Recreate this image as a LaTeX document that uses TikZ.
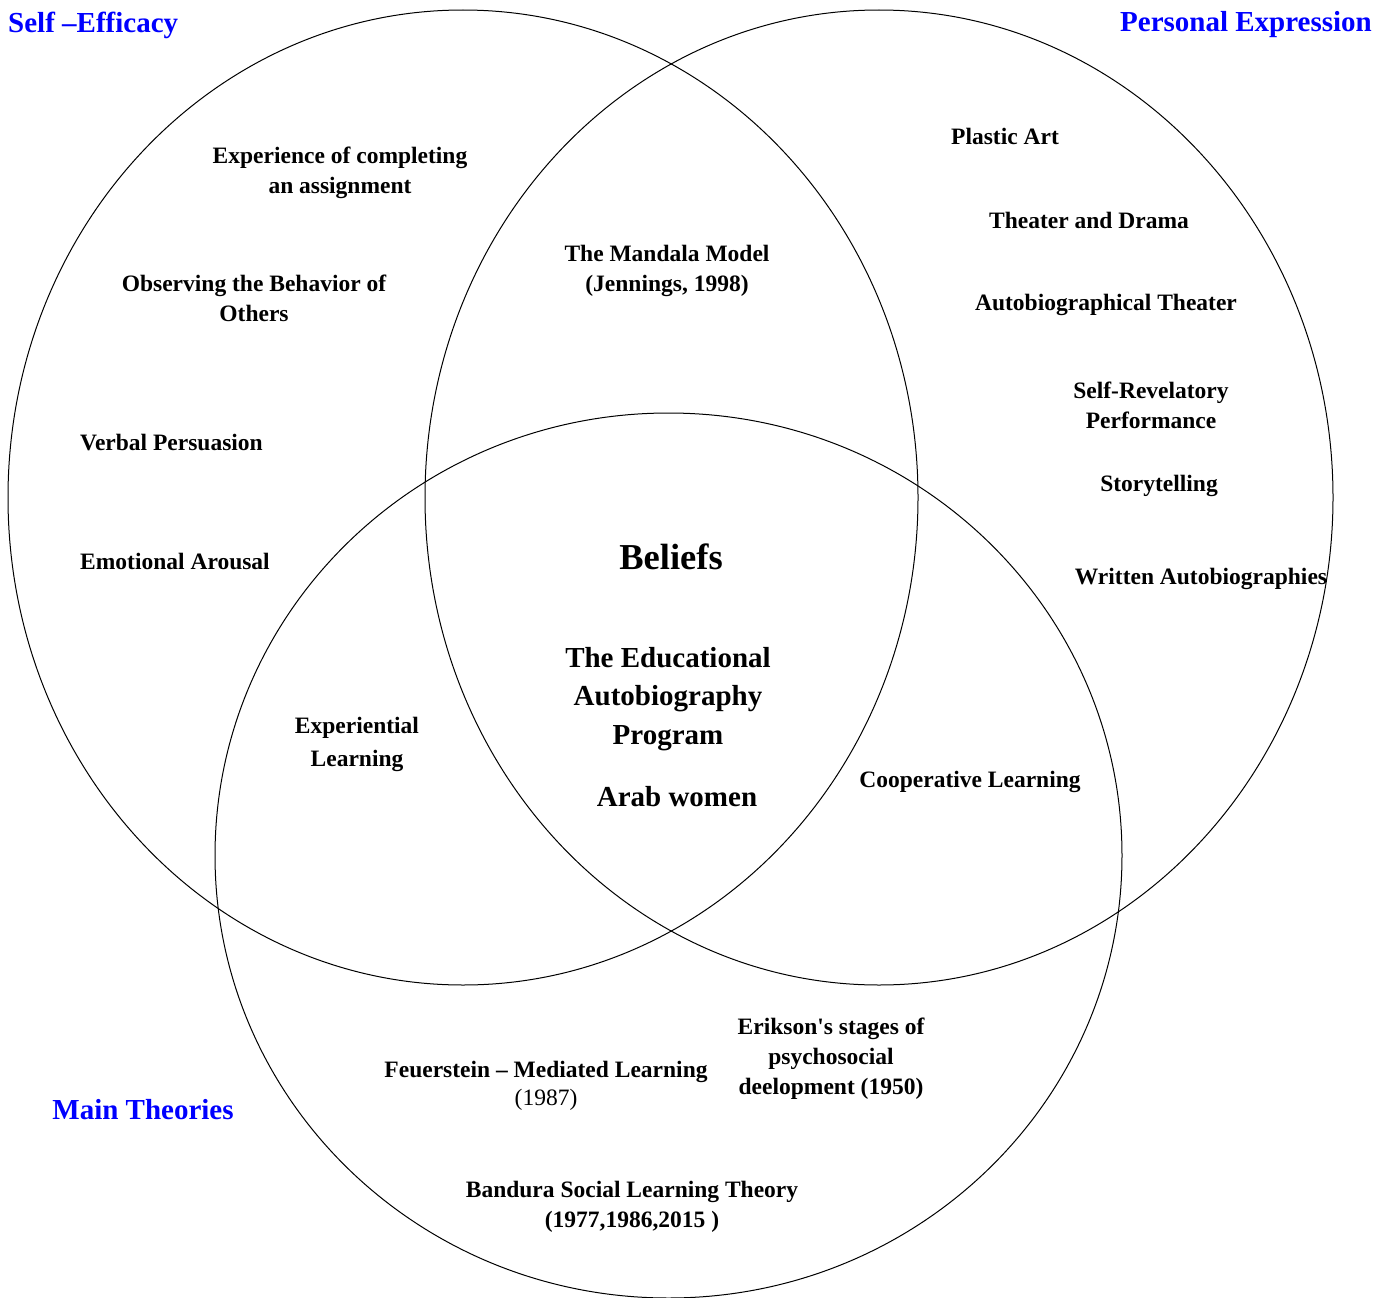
\documentclass[tikz,border=0pt]{standalone}
\usepackage{fontspec}
\setmainfont{Liberation Serif}
\usetikzlibrary{positioning}
\tikzstyle{ring}=[draw, line width=1pt]
\tikzstyle{item}=[font=\fontsize{23.5}{30}\selectfont\bfseries, align=center, inner sep=0pt]
\tikzstyle{core}=[font=\fontsize{29}{38.5}\selectfont\bfseries, align=center, inner sep=0pt]
\tikzstyle{setname}=[font=\fontsize{29}{34}\selectfont\bfseries, text=blue, inner sep=0pt]

\begin{document}
\begin{tikzpicture}[x=1pt, y=-1pt]
            \useasboundingbox (0,0) rectangle (1392,1298);

            % the three sets
            \draw[ring] (463,497.5) ellipse [x radius=455pt, y radius=487.5pt];
            \draw[ring] (879,497.5) ellipse [x radius=454pt, y radius=487.5pt];
            \draw[ring] (668.5,855.5) ellipse [x radius=453.5pt, y radius=442.5pt];

            % set names
            \node[setname, anchor=west] (efficacy) at (8,25) {Self –Efficacy};
            \node[setname, anchor=east] (expression) at (1372,25) {Personal Expression};
            \node[setname] (theories) at (143,1110) {Main Theories};

            % self efficacy
            \node[item] (assignment) at (340,173) {Experience of completing\\an assignment};
            \node[item] (observing) at (254,298) {Observing the Behavior of\\Others};
            \node[item, anchor=west] (verbal) at (80,443) {Verbal Persuasion};
            \node[item, anchor=west] (arousal) at (80,561) {Emotional Arousal};

            % personal expression
            \node[item] (plastic) at (1005,136) {Plastic Art};
            \node[item] (theater) at (1089,220) {Theater and Drama};
            \node[item] (autotheater) at (1106,305) {Autobiographical Theater};
            \node[item] (revelatory) at (1151,405) {Self-Revelatory\\Performance};
            \node[item] (story) at (1159,486) {Storytelling};
            \node[item] (written) at (1201,579) {Written Autobiographies};

            % overlaps
            \node[item] (mandala) at (667,271) {The Mandala Model\\(Jennings, 1998)};
            \node[item, font=\fontsize{23.5}{33}\selectfont\bfseries] (experiential) at (357,744) {Experiential\\Learning};
            \node[item] (cooperative) at (970,782) {Cooperative Learning};

            % centre
            \node[core, font=\fontsize{36.5}{40}\selectfont\bfseries] (beliefs) at (671,557) {Beliefs};
            \node[core] (program) at (668,699) {The Educational\\Autobiography\\Program};
            \node[core] (women) at (677,797) {Arab women};

            % main theories
            \node[item] (erikson) at (831,1059) {Erikson\textquotesingle s stages of\\psychosocial\\deelopment (1950)};
            \node[item] (feuerstein) at (546,1072) {Feuerstein – Mediated Learning};
            \node[item, font=\fontsize{23.5}{30}\selectfont, below=6pt of feuerstein] (year) {(1987)};
            \node[item] (bandura) at (632,1207) {Bandura Social Learning Theory\\(1977,1986,2015 )};
        \end{tikzpicture}
\end{document}
